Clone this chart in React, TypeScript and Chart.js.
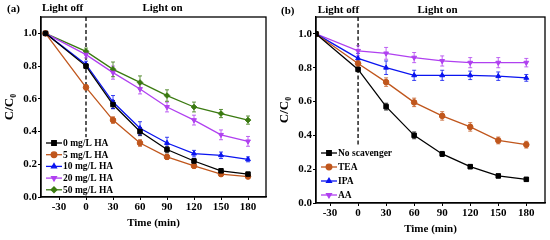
import React, { useEffect, useRef } from "react";
import { Chart, registerables } from "chart.js";
import { drawPoint } from "chart.js/helpers";

Chart.register(...registerables);

// ---- data ----
const times = [-45, 0, 30, 60, 90, 120, 150, 180];
const xTicks = [-30, 0, 30, 60, 90, 120, 150, 180];

const seriesNamesA = ["0 mg/L HA", "5 mg/L HA", "10 mg/L HA", "20 mg/L HA", "50 mg/L HA"];
const ha0 = [1.0, 0.8, 0.565, 0.4, 0.29, 0.22, 0.16, 0.14];
const ha5 = [1.0, 0.67, 0.47, 0.33, 0.245, 0.19, 0.14, 0.125];
const ha10 = [1.0, 0.81, 0.58, 0.42, 0.33, 0.265, 0.255, 0.23];
const ha20 = [1.0, 0.87, 0.76, 0.66, 0.55, 0.47, 0.38, 0.34];
const ha50 = [1.0, 0.89, 0.78, 0.7, 0.62, 0.55, 0.51, 0.47];
const errHa0 = [0, 0.015, 0.025, 0.025, 0.02, 0.015, 0.012, 0.01];
const errHa5 = [0, 0.015, 0.02, 0.02, 0.015, 0.012, 0.012, 0.01];
const errHa10 = [0, 0.02, 0.04, 0.04, 0.035, 0.02, 0.02, 0.015];
const errHa20 = [0, 0.02, 0.04, 0.03, 0.03, 0.03, 0.03, 0.03];
const errHa50 = [0, 0.02, 0.045, 0.04, 0.035, 0.03, 0.025, 0.025];

const seriesNamesB = ["No scavenger", "TEA", "IPA", "AA"];
const noScav = [1.0, 0.79, 0.57, 0.4, 0.29, 0.215, 0.16, 0.14];
const tea = [1.0, 0.825, 0.715, 0.595, 0.515, 0.45, 0.37, 0.345];
const ipa = [1.0, 0.855, 0.8, 0.755, 0.755, 0.755, 0.75, 0.74];
const aa = [1.0, 0.9, 0.885, 0.86, 0.84, 0.83, 0.83, 0.83];
const errNoScav = [0, 0.01, 0.02, 0.02, 0.015, 0.012, 0.01, 0.01];
const errTea = [0, 0.015, 0.025, 0.025, 0.025, 0.025, 0.02, 0.02];
const errIpa = [0, 0.03, 0.04, 0.03, 0.03, 0.025, 0.025, 0.02];
const errAa = [0, 0.03, 0.035, 0.03, 0.03, 0.03, 0.03, 0.025];

// ---- styles ----
const BLACK = "#000000";
const BROWN = "#c0561c";
const BLUE = "#0a14f0";
const VIOLET = "#b040f0";
const GREEN = "#3a7a10";
const FONT = "'Liberation Serif', 'Times New Roman', serif";

function mkDs(label: string, vals: number[], errs: number[], color: string, style: string, rot = 0) {
  return {
    label,
    data: times.map((t, i) => ({ x: t, y: vals[i] })),
    errors: errs,
    borderColor: color,
    backgroundColor: color,
    borderWidth: 1.3,
    pointStyle: style,
    pointRotation: rot,
    pointRadius: style === "rect" ? 3.2 : 2.8,
    pointBorderWidth: 1,
    tension: 0,
  };
}

const decorPlugin = {
  id: "decor",
  beforeDatasetsDraw(chart: any, _a: any, opts: any) {
    const { ctx, chartArea, scales } = chart;
    const x0 = scales.x.getPixelForValue(0);
    ctx.save();
    ctx.setLineDash([4, 2.5]);
    ctx.lineWidth = 1.3;
    ctx.strokeStyle = "#000";
    ctx.beginPath();
    ctx.moveTo(x0, chartArea.top);
    ctx.lineTo(x0, chartArea.bottom);
    ctx.stroke();
    ctx.setLineDash([]);
    chart.data.datasets.forEach((ds: any) => {
      ctx.strokeStyle = ds.borderColor;
      ctx.lineWidth = 0.8;
      ds.data.forEach((p: any, j: number) => {
        const e = ds.errors[j];
        if (!e) return;
        const x = scales.x.getPixelForValue(p.x);
        const y1 = scales.y.getPixelForValue(p.y + e);
        const y2 = scales.y.getPixelForValue(p.y - e);
        ctx.beginPath();
        ctx.moveTo(x, y1);
        ctx.lineTo(x, y2);
        ctx.moveTo(x - 2, y1);
        ctx.lineTo(x + 2, y1);
        ctx.moveTo(x - 2, y2);
        ctx.lineTo(x + 2, y2);
        ctx.stroke();
      });
    });
    ctx.restore();
  },
  afterDraw(chart: any, _a: any, opts: any) {
    const { ctx, chartArea, scales } = chart;
    ctx.save();
    // frame
    ctx.strokeStyle = "#000";
    ctx.lineWidth = 1.3;
    ctx.strokeRect(chartArea.left, chartArea.top, chartArea.right - chartArea.left, chartArea.bottom - chartArea.top);
    // headers
    ctx.fillStyle = "#000";
    ctx.font = `bold 11px ${FONT}`;
    ctx.textBaseline = "middle";
    ctx.textAlign = "left";
    ctx.fillText(opts.panel, opts.panelX, opts.panelY);
    ctx.textAlign = "center";
    ctx.fillText("Light off", scales.x.getPixelForValue(opts.offAt), opts.headY);
    ctx.fillText("Light on", scales.x.getPixelForValue(opts.onAt), opts.headY);
    // legend
    const ds = chart.data.datasets;
    ctx.font = `bold 9.5px ${FONT}`;
    const lx = opts.legX;
    const ly = opts.legY;
    const sp = opts.legSp;
    let maxW = 0;
    ds.forEach((d: any) => (maxW = Math.max(maxW, ctx.measureText(d.label).width)));
    ctx.fillStyle = "#fff";
    ctx.fillRect(lx - 2, ly - sp / 2, 19 + maxW, sp * ds.length);
    ds.forEach((d: any, i: number) => {
      const y = ly + i * sp;
      ctx.strokeStyle = d.borderColor;
      ctx.lineWidth = 1.3;
      ctx.beginPath();
      ctx.moveTo(lx, y);
      ctx.lineTo(lx + 16, y);
      ctx.stroke();
      ctx.fillStyle = d.backgroundColor;
      drawPoint(ctx, { pointStyle: d.pointStyle, rotation: d.pointRotation, radius: d.pointRadius, borderWidth: 1 }, lx + 8, y);
      ctx.fillStyle = "#000";
      ctx.textAlign = "left";
      ctx.fillText(d.label, lx + 17, y + 0.5);
    });
    ctx.restore();
  },
};

function buildConfig(datasets: any[], cfg: any) {
  return {
    type: "line",
    data: { datasets },
    plugins: [decorPlugin],
    options: {
      animation: false,
      responsive: false,
      layout: { padding: { top: 17, right: cfg.padRight, left: 0, bottom: 0 } },
      plugins: {
        legend: { display: false },
        tooltip: { enabled: false },
        decor: cfg.decor,
      },
      scales: {
        x: {
          type: "linear",
          min: cfg.xMin,
          max: 200,
          afterBuildTicks: (s: any) => {
            s.ticks = xTicks.map((v) => ({ value: v }));
          },
          afterFit: (s: any) => {
            s.height = cfg.xHeight;
          },
          grid: { drawOnChartArea: false, drawTicks: true, tickLength: 3, color: "#000", lineWidth: 1 },
          border: { display: true, color: "#000", width: 1.3 },
          ticks: { color: "#000", padding: 1, maxRotation: 0, font: { family: FONT, size: 11, weight: "bold" } },
          title: {
            display: true,
            text: "Time (min)",
            color: "#000",
            padding: { top: 0, bottom: cfg.xTitlePad },
            font: { family: FONT, size: 11, weight: "bold" },
          },
        },
        y: {
          min: 0,
          max: 1.1,
          ticks: {
            stepSize: 0.2,
            includeBounds: false,
            color: "#000",
            padding: 1,
            font: { family: FONT, size: 11, weight: "bold" },
            callback: (v: any) => Number(v).toFixed(1),
          },
          afterFit: (s: any) => {
            s.width = 41;
          },
          grid: { drawOnChartArea: false, drawTicks: true, tickLength: 3, color: "#000", lineWidth: 1 },
          border: { display: true, color: "#000", width: 1.3 },
          title: {
            display: true,
            text: "C/C₀",
            color: "#000",
            padding: { top: 2, bottom: 0 },
            font: { family: FONT, size: 13, weight: "bold" },
          },
        },
      },
    },
  };
}

function Panel({ config }: { config: any }) {
  const ref = useRef<HTMLCanvasElement | null>(null);
  useEffect(() => {
    if (!ref.current) return;
    const chart = new Chart(ref.current, config);
    return () => chart.destroy();
  }, [config]);
  return <canvas ref={ref} width={275} height={240} style={{ display: "block", width: 275, height: 240 }} />;
}

const configA = buildConfig(
  [
    mkDs(seriesNamesA[0], ha0, errHa0, BLACK, "rect"),
    mkDs(seriesNamesA[1], ha5, errHa5, BROWN, "circle"),
    mkDs(seriesNamesA[2], ha10, errHa10, BLUE, "triangle"),
    mkDs(seriesNamesA[3], ha20, errHa20, VIOLET, "triangle", 180),
    mkDs(seriesNamesA[4], ha50, errHa50, GREEN, "rectRot"),
  ],
  {
    padRight: 9,
    xMin: -50,
    xHeight: 43,
    xTitlePad: 10,
    decor: { panel: "(a)", panelX: 7, panelY: 9, headY: 8.5, offAt: -26, onAt: 85, legX: 46, legY: 143, legSp: 11.7 },
  }
);

const configB = buildConfig(
  [
    mkDs(seriesNamesB[0], noScav, errNoScav, BLACK, "rect"),
    mkDs(seriesNamesB[1], tea, errTea, BROWN, "circle"),
    mkDs(seriesNamesB[2], ipa, errIpa, BLUE, "triangle"),
    mkDs(seriesNamesB[3], aa, errAa, VIOLET, "triangle", 180),
  ],
  {
    padRight: 3,
    xMin: -45,
    xHeight: 37,
    xTitlePad: 4,
    decor: { panel: "(b)", panelX: 6, panelY: 11, headY: 10, offAt: -21, onAt: 85, legX: 46, legY: 153, legSp: 14 },
  }
);

export default function App() {
  return (
    <div style={{ position: "absolute", left: 0, top: 0, width: 550, height: 240, display: "flex", background: "#fff" }}>
      <Panel config={configA} />
      <Panel config={configB} />
    </div>
  );
}
